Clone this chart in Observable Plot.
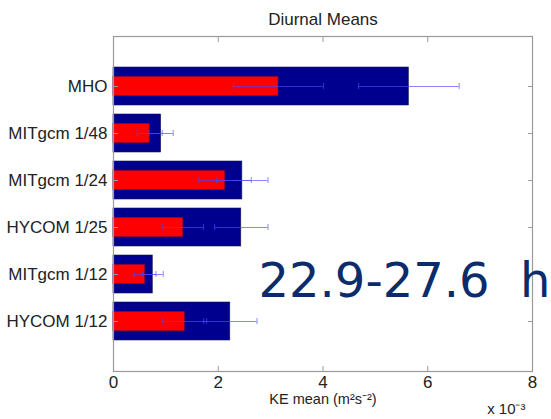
<!DOCTYPE html>
<html><head><meta charset="utf-8">
<script src="https://cdn.jsdelivr.net/npm/d3@7"></script>
<script src="https://cdn.jsdelivr.net/npm/@observablehq/plot@0.6"></script>
<style>body{margin:0;background:#fff}</style>
</head><body><div id="chart"></div>
<script>
const categories = ["MHO", "MITgcm 1/48", "MITgcm 1/24", "HYCOM 1/25", "MITgcm 1/12", "HYCOM 1/12"];
const blueMean = [5.64, 0.91, 2.46, 2.44, 0.75, 2.23];
const blueErr  = [0.96, 0.23, 0.49, 0.51, 0.20, 0.51];
const redMean  = [3.15, 0.69, 2.13, 1.33, 0.60, 1.36];
const redErr   = [0.86, 0.24, 0.50, 0.39, 0.21, 0.42];
const xTicks = [0, 2, 4, 6, 8];
const titleText = "Diurnal Means";
const xLabel = "KE mean (m²s⁻²)";
const xExponent = "x 10⁻³";
const bandLabel = "22.9-27.6  h";

const rows = categories.map((c, i) => ({c, blue: blueMean[i], red: redMean[i]}));
const errs = categories.flatMap((c, i) => [
  {c, x1: redMean[i] - redErr[i], x2: redMean[i] + redErr[i]},
  {c, x1: blueMean[i] - blueErr[i], x2: blueMean[i] + blueErr[i]}
]);
const caps = errs.flatMap(e => [{c: e.c, x: e.x1}, {c: e.c, x: e.x2}]);
const errColor = "#4a4aff";

const chart = Plot.plot({
  width: 551, height: 419,
  marginLeft: 113, marginRight: 19, marginTop: 36, marginBottom: 48,
  style: {fontFamily: "'Liberation Sans', Arial, sans-serif", background: "#fff", color: "#222"},
  x: {domain: [0, 8]},
  y: {domain: categories, paddingInner: 0.2, paddingOuter: 0.6},
  marks: [
    Plot.barX(rows, {x: "blue", y: "c", fill: "#00008f", stroke: "#1a1a55", strokeWidth: 0.6}),
    Plot.barX(rows, {x: "red", y: "c", fill: "#ff0000", insetTop: 9.5, insetBottom: 9.5, stroke: "#a00020", strokeWidth: 0.6}),
    Plot.ruleY(errs, {y: "c", x1: "x1", x2: "x2", stroke: errColor, strokeOpacity: 0.65, strokeWidth: 1}),
    Plot.tickX(caps, {x: "x", y: "c", stroke: errColor, strokeOpacity: 0.65, insetTop: 16, insetBottom: 16}),
    Plot.frame({stroke: "#9a9a9a", strokeWidth: 1.2}),
    Plot.axisX({anchor: "bottom", ticks: xTicks, tickSize: 0, tickPadding: 4, fontSize: 17, label: null}),
    Plot.axisX({anchor: "bottom", ticks: xTicks, tickSize: -5, tickFormat: () => "", label: null, stroke: "#9a9a9a"}),
    Plot.axisX({anchor: "top", ticks: xTicks, tickSize: -5, tickFormat: () => "", label: null, stroke: "#9a9a9a"}),
    Plot.axisY({anchor: "left", tickSize: 0, tickPadding: 6, fontSize: 17, label: null}),
    Plot.axisY({anchor: "left", tickSize: -5, tickFormat: () => "", label: null, stroke: "#9a9a9a"}),
    Plot.axisY({anchor: "right", tickSize: -5, tickFormat: () => "", label: null, stroke: "#9a9a9a"}),
    Plot.text([titleText], {text: d => d, frameAnchor: "top", dy: -12, lineAnchor: "bottom", fontSize: 17, fill: "#222"}),
    Plot.text([xLabel], {text: d => d, frameAnchor: "bottom", dy: 32, lineAnchor: "bottom", fontSize: 14.5, fill: "#222"}),
    Plot.text([xExponent], {text: d => d, frameAnchor: "bottom-right", dx: -7, dy: 42, lineAnchor: "bottom", textAnchor: "end", fontSize: 15, fill: "#222"}),
    Plot.text([bandLabel], {text: d => d, frameAnchor: "top-left", dx: 145, dy: 260, lineAnchor: "bottom", textAnchor: "start", fontSize: 48, fontFamily: "'DejaVu Sans', sans-serif", fill: "#0b2c6b"})
  ]
});
document.getElementById("chart").appendChild(chart);
</script>
</body></html>
